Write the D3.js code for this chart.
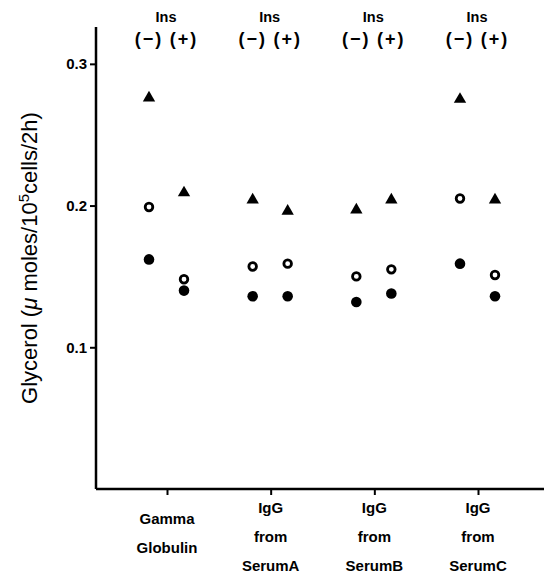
<!DOCTYPE html>
<html><head><meta charset="utf-8">
<script src="https://cdn.jsdelivr.net/npm/d3@7"></script>
<style>body{margin:0;background:#fff}svg{display:block}</style>
</head><body>
<script>
const categories = ["Gamma Globulin","IgG from SerumA","IgG from SerumB","IgG from SerumC"];
const categoryLines = [["Gamma","Globulin"],["IgG","from","SerumA"],["IgG","from","SerumB"],["IgG","from","SerumC"]];
const insConditions = ["(−)","(+)"];
const yTicks = [0.1,0.2,0.3];
// series values [category][condition]
const triangleMinus = [0.276,0.204,0.197,0.275];
const trianglePlus  = [0.209,0.196,0.204,0.204];
const openMinus     = [0.199,0.157,0.150,0.205];
const openPlus      = [0.148,0.159,0.155,0.151];
const filledMinus   = [0.162,0.136,0.132,0.159];
const filledPlus    = [0.140,0.136,0.138,0.136];

(function(){
const W=545,H=574;
const svg=d3.select("body").append("svg").attr("width",W).attr("height",H);
const mLeft=96,mBottom=489,mTop=27,mRight=544;
const y=d3.scaleLinear().domain([0,0.326]).range([mBottom,mTop]);
const x=d3.scalePoint().domain(categories).range([167,478]);
const sub=d3.scalePoint().domain(insConditions).range([-18,17]);
const FF="Liberation Sans, Arial, sans-serif";

// y axis
const ya=svg.append("g").attr("transform",`translate(${mLeft},0)`)
  .call(d3.axisLeft(y).tickValues(yTicks).tickFormat(d3.format(".1f")).tickSize(6).tickPadding(3));
ya.select(".domain").attr("d",`M0,${mTop}V${mBottom}`).attr("stroke-width",2.5);
ya.selectAll(".tick line").attr("stroke-width",2);
ya.selectAll(".tick text").attr("font-family",FF).attr("font-weight","bold").attr("font-size",15).attr("fill","#000");

// x axis
const xa=svg.append("g").attr("transform",`translate(0,${mBottom})`)
  .call(d3.axisBottom(x).tickSize(6).tickFormat(""));
xa.select(".domain").attr("d",`M${mLeft},0H${mRight}`).attr("stroke-width",2.5);
xa.selectAll(".tick line").attr("stroke-width",2);

// category labels
categoryLines.forEach((lines,i)=>{
  const n=lines.length;
  const startY = n===2 ? 524 : 513;
  const t=svg.append("text").attr("x",x(categories[i])).attr("text-anchor","middle")
    .attr("font-family",FF).attr("font-weight","bold").attr("font-size",15);
  lines.forEach((l,j)=>t.append("tspan").attr("x",x(categories[i])).attr("y",startY+j*29).text(l));
});

// Ins header
categories.forEach(c=>{
  svg.append("text").attr("x",x(c)-1).attr("y",22).attr("text-anchor","middle")
    .attr("font-family",FF).attr("font-weight","bold").attr("font-size",14.5).text("Ins");
  insConditions.forEach(k=>{
    svg.append("text").attr("x",x(c)+sub(k)).attr("y",45).attr("text-anchor","middle")
      .attr("font-family",FF).attr("font-weight","bold").attr("font-size",18)
      .attr("letter-spacing",2).text(k);
  });
});

// y label
const yl=svg.append("text").attr("transform","translate(37,258) rotate(-90)").attr("text-anchor","middle")
  .attr("font-family",FF).attr("font-size",22).attr("fill","#000");
yl.append("tspan").text("Glycerol (");
yl.append("tspan").attr("font-style","italic").text("μ");
yl.append("tspan").text(" moles/10");
yl.append("tspan").attr("baseline-shift","super").attr("font-size",15).text("5");
yl.append("tspan").text("cells/2h)");

// data points
function pts(vals,cond){return vals.map((v,i)=>({x:x(categories[i])+sub(cond),y:y(v)}));}
const tri=d3.symbol().type(d3.symbolTriangle).size(66);
svg.append("g").selectAll("path").data(pts(triangleMinus,"(−)").concat(pts(trianglePlus,"(+)")))
  .join("path").attr("d",tri).attr("transform",d=>`translate(${d.x},${d.y})`).attr("fill","#000");
svg.append("g").selectAll("circle").data(pts(openMinus,"(−)").concat(pts(openPlus,"(+)")))
  .join("circle").attr("cx",d=>d.x).attr("cy",d=>d.y).attr("r",3.8).attr("fill","#fff").attr("stroke","#000").attr("stroke-width",2.8);
svg.append("g").selectAll("circle").data(pts(filledMinus,"(−)").concat(pts(filledPlus,"(+)")))
  .join("circle").attr("cx",d=>d.x).attr("cy",d=>d.y).attr("r",5.3).attr("fill","#000");
})();
</script>
</body></html>
